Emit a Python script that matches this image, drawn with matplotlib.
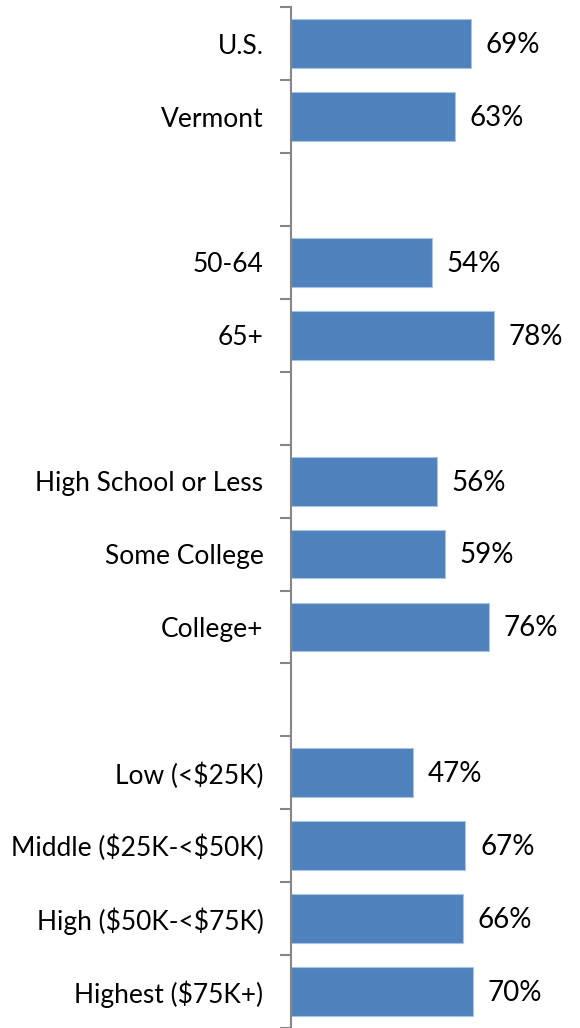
import numpy as np
import matplotlib.pyplot as plt

labels = ['U.S.', 'Vermont', '', '50-64', '65+', '',
          'High School or Less', 'Some College', 'College+', '',
          r'Low (<\$25K)', r'Middle (\$25K-<\$50K)', r'High (\$50K-<\$75K)',
          r'Highest (\$75K+)']
values = [69, 63, np.nan, 54, 78, np.nan, 56, 59, 76, np.nan,
          47, 67, 66, 70]

plt.rcParams['font.family'] = ['Lato', 'DejaVu Sans']

fig = plt.figure(figsize=(5.8, 10.28), dpi=100)
ax = fig.add_axes([0.502, 0.0, 0.48, 0.993])

y = np.arange(len(labels))
vals = np.array(values, dtype=float)
ax.barh(y, np.nan_to_num(vals), height=0.67, color='#4F81BD',
        edgecolor='#A9C3E3', linewidth=0.8)

for yi, v in zip(y, vals):
    if np.isnan(v):
        continue
    ax.annotate(f'{v:.0f}%', (v, yi), xytext=(10.5, -1), textcoords='offset points',
                ha='left', va='center', fontsize=20)

ax.set_ylim(len(labels) - 0.5, -0.5)
ax.set_xlim(0, 107)
ax.set_yticks(y)
ax.set_yticklabels(labels, fontsize=19)
ax.set_yticks(np.arange(-0.5, len(labels), 1), minor=True)
ax.tick_params(axis='y', which='major', length=0, pad=20)
ax.tick_params(axis='y', which='minor', length=8, width=1.5, color='#868686')
ax.set_xticks([])
for s in ['top', 'right', 'bottom']:
    ax.spines[s].set_visible(False)
ax.spines['left'].set_color('#868686')
ax.spines['left'].set_linewidth(1.5)

fig.savefig('out.png', dpi=100)
